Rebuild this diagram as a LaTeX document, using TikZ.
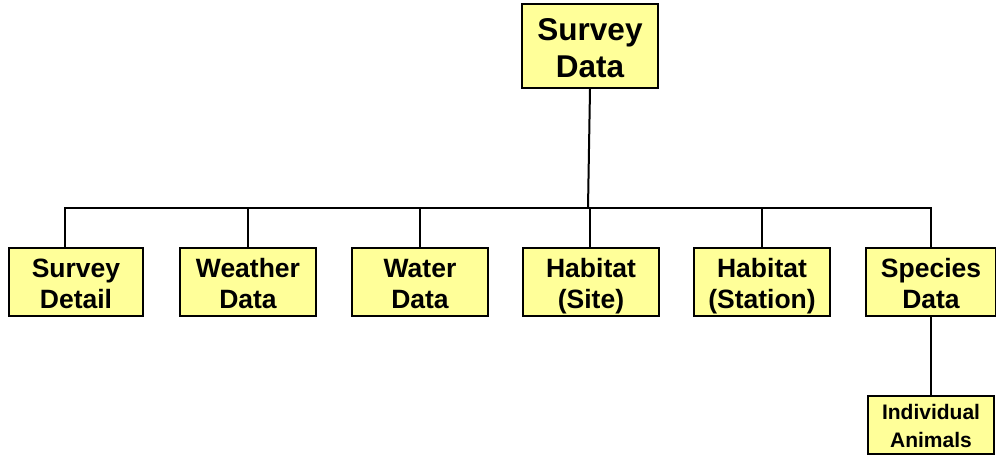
\documentclass[tikz,border=0pt]{standalone}
\usepackage{fontspec}
\setmainfont{Liberation Sans}
\usetikzlibrary{positioning, calc}
\definecolor{boxyellow}{rgb}{1.0, 1.0, 0.6}
\tikzset{tablebox/.style={draw=black, line width=2pt, fill=boxyellow, align=center,
    inner sep=0pt, minimum width=136pt, minimum height=68pt, text depth=0pt, text height=52pt,
    font=\bfseries\fontsize{26.5}{31}\selectfont}}
\tikzset{topbox/.style={tablebox, minimum height=84pt, text height=63pt, font=\bfseries\fontsize{31.5}{37}\selectfont}}
\tikzset{smallbox/.style={tablebox, minimum width=126pt, minimum height=58pt, text height=44pt, font=\bfseries\fontsize{21}{28}\selectfont}}
\tikzset{link/.style={line width=2pt}}

\begin{document}
\begin{tikzpicture}[x=1pt, y=-1pt]
    \useasboundingbox[fill=white] (0,0) rectangle (996,456);

    \node[topbox] (survey) at (590, 46) {Survey\\Data};

    \node[tablebox, minimum width=134pt] (detail) at (76, 282) {Survey\\Detail};
    \node[tablebox] (weather) at (248, 282) {Weather\\Data};
    \node[tablebox] (water)   at (420, 282) {Water\\Data};
    \node[tablebox] (site)    at (591, 282) {Habitat\\(Site)};
    \node[tablebox] (station) at (762, 282) {Habitat\\(Station)};
    \node[tablebox, minimum width=130pt] (species) at (931, 282) {Species\\Data};

    \node[smallbox] (animals) at (931, 425) {Individual\\Animals};

    \coordinate (bar) at (588, 208);
    \draw[link] (survey.south) -- (bar);
    \draw[link] ([xshift=-11pt]detail.north) |- (bar);
    \draw[link] (weather.north) |- (bar);
    \draw[link] (water.north) |- (bar);
    \draw[link] ([xshift=-1pt]site.north) |- (bar);
    \draw[link] (station.north) |- (bar);
    \draw[link] (species.north) |- (bar);
    \draw[link] (species.south) -- (animals.north);
\end{tikzpicture}
\end{document}
